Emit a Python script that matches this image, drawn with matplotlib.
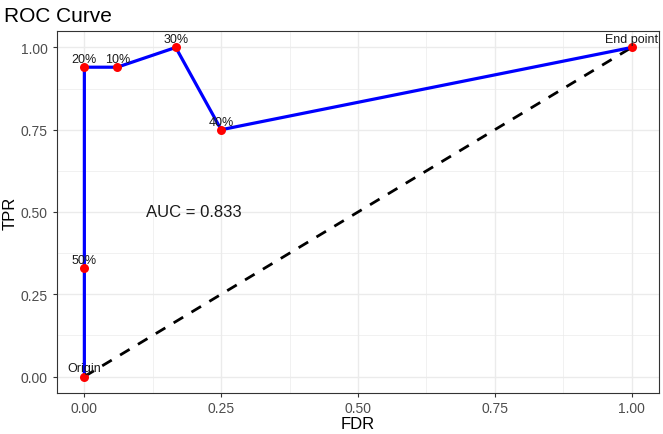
import numpy as np
from matplotlib import pyplot as plt

plt.rcParams["font.family"] = ["Liberation Sans", "DejaVu Sans"]

# ROC points (threshold labels)
labels = ["Origin", "50%", "20%", "10%", "30%", "40%", "End point"]
fdr = [0.0, 0.0, 0.0, 0.06, 0.167, 0.25, 1.0]
tpr = [0.0, 0.33, 0.94, 0.94, 1.0, 0.75, 1.0]
auc_text = "AUC = 0.833"
ticks = [0.0, 0.25, 0.5, 0.75, 1.0]
tick_labels = ["0.00", "0.25", "0.50", "0.75", "1.00"]

fig = plt.figure(figsize=(6.63, 4.35), dpi=100)
ax = fig.add_axes([57 / 663, 1 - 394 / 435, (659 - 57) / 663, (394 - 32) / 435])

# ggplot theme_bw look
for s in ax.spines.values():
    s.set_color("#333333")
    s.set_linewidth(0.8)
ax.set_xticks(ticks)
ax.set_xticklabels(tick_labels)
ax.set_yticks(ticks)
ax.set_yticklabels(tick_labels)
ax.set_xticks([0.125, 0.375, 0.625, 0.875], minor=True)
ax.set_yticks([0.125, 0.375, 0.625, 0.875], minor=True)
ax.tick_params(which="major", length=3, color="#333333", labelcolor="#4d4d4d", labelsize=10)
ax.tick_params(axis="x", pad=2.5)
ax.tick_params(which="minor", length=0)
ax.grid(True, which="major", color="#EBEBEB", linewidth=1.0)
ax.grid(True, which="minor", color="#EBEBEB", linewidth=0.5)
ax.set_axisbelow(True)

ax.plot([0, 1], [0, 1], "k--", linewidth=2, dashes=(4, 3.5), zorder=2)
ax.plot(fdr, tpr, color="blue", linewidth=2.3, zorder=3)
ax.scatter(fdr, tpr, color="red", s=42, zorder=4, linewidths=0)

for lab, x, y in zip(labels, fdr, tpr):
    ax.annotate(lab, xy=(x, y), xytext=(0, 1.5), textcoords="offset points",
                ha="center", va="bottom", fontsize=9, color="#1a1a1a", zorder=5)

ax.text(0.2, 0.5, auc_text, ha="center", va="center", fontsize=12, color="#1a1a1a")

ax.set_xlim(-0.05, 1.05)
ax.set_ylim(-0.05, 1.05)
ax.set_xlabel("FDR", fontsize=12, color="black", labelpad=1)
ax.set_ylabel("TPR", fontsize=12, color="black", labelpad=2)
fig.text(4 / 663, 1 - 17 / 435, "ROC Curve", fontsize=15, va="center", ha="left")

fig.savefig("out.png", dpi=100)
